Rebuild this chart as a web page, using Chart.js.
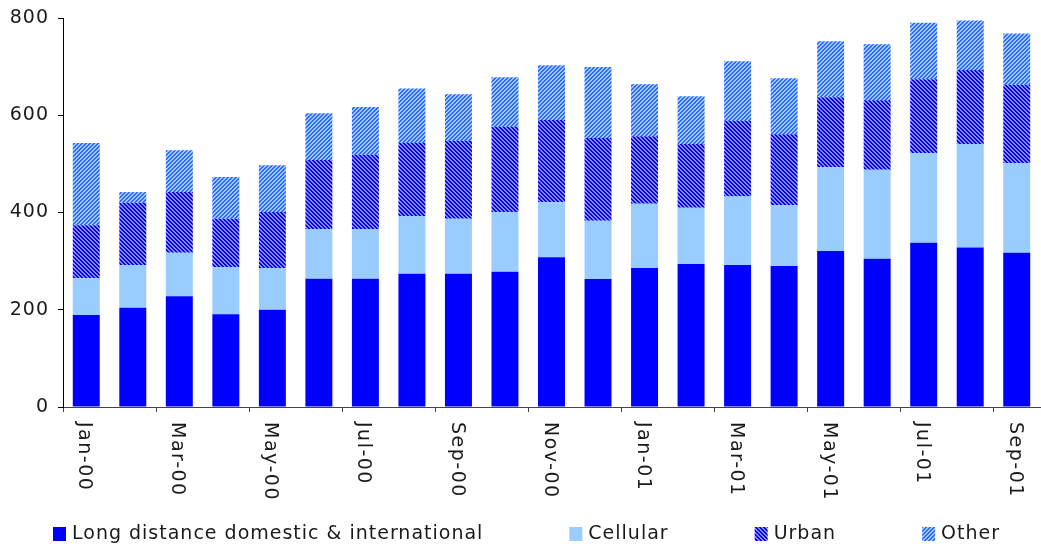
<!DOCTYPE html>
<html>
<head>
<meta charset="utf-8">
<script src="https://cdn.jsdelivr.net/npm/chart.js@4.4.1/dist/chart.umd.min.js"></script>
<style>
  html, body { margin: 0; padding: 0; background: #fff; }
  #wrap { width: 1041px; height: 544px; }
</style>
</head>
<body>
<div id="wrap"><canvas id="grafica"></canvas></div>
<script>
const MONTHS = ["Jan-00", "Feb-00", "Mar-00", "Apr-00", "May-00", "Jun-00", "Jul-00", "Aug-00", "Sep-00", "Oct-00", "Nov-00", "Dec-00",
                "Jan-01", "Feb-01", "Mar-01", "Apr-01", "May-01", "Jun-01", "Jul-01", "Aug-01", "Sep-01"];
const LONG_DISTANCE = [189, 204, 228, 191, 200, 264, 264, 274, 274, 278, 308, 263, 286, 294, 292, 290, 321, 305, 338, 328, 317];
const CELLULAR      = [ 76,  88,  89,  97,  86, 102, 102, 119, 113, 123, 113, 120, 132, 116, 141, 125, 172, 183, 184, 213, 185];
const URBAN         = [109, 128, 125,  99, 115, 142, 152, 150, 160, 175, 169, 170, 139, 131, 155, 146, 144, 143, 152, 152, 160];
const OTHER         = [169,  22,  86,  86,  96,  96,  99, 112,  96, 102, 113, 146, 107,  98, 123, 115, 115, 115, 116, 102, 106];
const Y_TICKS = [0, 200, 400, 600, 800];

const FONT = '19px "DejaVu Sans"';
const TEXT = "#1a1a1a";
const SPACING = "1px";

// 4x4 diagonal hatch tile, '/' or '\'
function rayado(oscuro, claro, sentido) {
  const c = document.createElement("canvas");
  c.width = 4; c.height = 4;
  const g = c.getContext("2d");
  g.fillStyle = claro;
  g.fillRect(0, 0, 4, 4);
  g.fillStyle = oscuro;
  for (let x = 0; x < 4; x++) {
    for (let y = 0; y < 4; y++) {
      const k = sentido === "/" ? (x + y) % 4 : (x - y + 4) % 4;
      if (k < 2) g.fillRect(x, y, 1, 1);
    }
  }
  return g.createPattern(c, "repeat");
}

// axis text: y values right aligned, x months read top to bottom (every second one)
const etiquetas = {
  id: "etiquetas",
  afterDraw(chart) {
    const sx = chart.scales.x, sy = chart.scales.y, ctx = chart.ctx;
    ctx.save();
    ctx.font = FONT;
    ctx.fillStyle = TEXT;

    ctx.letterSpacing = SPACING;
    ctx.textAlign = "left";
    ctx.textBaseline = "middle";
    Y_TICKS.forEach(v => {
      const t = String(v);
      const w = ctx.measureText(t).width;
      ctx.fillText(t, sy.right - 14 - w, sy.getPixelForValue(v));
    });

    ctx.letterSpacing = "1.5px";
    MONTHS.forEach((m, i) => {
      if (i % 2) return;
      ctx.save();
      ctx.translate(sx.getPixelForTick(i), sx.bottom + 10);
      ctx.rotate(Math.PI / 2);
      ctx.fillText(m, 0, 2);
      ctx.restore();
    });
    ctx.restore();
  }
};

// legend row along the bottom with wide gaps
const leyenda = {
  id: "leyenda",
  afterDraw(chart) {
    const ctx = chart.ctx;
    const CAJA = 13, SEP = 86, y = 534;
    ctx.save();
    ctx.font = FONT;
    ctx.letterSpacing = SPACING;
    const items = chart.data.datasets;
    const anchos = items.map(d => CAJA + 6 + ctx.measureText(d.label).width);
    let x = 53;
    items.forEach((d, i) => {
      ctx.fillStyle = d.backgroundColor;
      ctx.fillRect(x, y - 7, CAJA, 14);
      ctx.fillStyle = TEXT;
      ctx.textAlign = "left";
      ctx.textBaseline = "middle";
      ctx.fillText(d.label, x + CAJA + 6, y);
      x += anchos[i] + SEP;
    });
    ctx.restore();
  }
};

Chart.defaults.font.family = '"DejaVu Sans"';
Chart.defaults.font.size = 19;
Chart.defaults.color = TEXT;

const canvas = document.getElementById("grafica");

new Chart(canvas, {
  type: "bar",
  data: {
    labels: MONTHS,
    datasets: [
      { label: "Long distance domestic & international", data: LONG_DISTANCE, backgroundColor: "#0000ff" },
      { label: "Cellular", data: CELLULAR, backgroundColor: "#99ccff" },
      { label: "Urban", data: URBAN, backgroundColor: rayado("#0000ff", "#8c8cff", "\\") },
      { label: "Other", data: OTHER, backgroundColor: rayado("#3366ff", "#99ccff", "/") }
    ]
  },
  options: {
    responsive: true,
    maintainAspectRatio: false,
    animation: false,
    layout: { padding: { left: 12, right: 1, top: 18, bottom: 132 } },
    datasets: { bar: { barPercentage: 0.58, categoryPercentage: 1, borderWidth: 0 } },
    plugins: {
      legend: { display: false },
      tooltip: { enabled: false }
    },
    scales: {
      x: {
        stacked: true,
        offset: true,
        border: { display: true, color: "#444", width: 1 },
        grid: {
          offset: true,
          drawOnChartArea: false,
          tickLength: 5,
          color: ctx => (ctx.index % 2 === 0 ? "#444" : "rgba(0,0,0,0)")
        },
        ticks: { display: false, autoSkip: false }
      },
      y: {
        stacked: true,
        min: 0,
        max: 800,
        border: { display: true, color: "#000", width: 1 },
        grid: { drawOnChartArea: false, tickLength: 5, color: "#000" },
        afterBuildTicks: scale => { scale.ticks = Y_TICKS.map(v => ({ value: v })); },
        afterFit: scale => { scale.width = 51; },
        ticks: { display: false }
      }
    }
  },
  plugins: [etiquetas, leyenda]
});
</script>
</body>
</html>
